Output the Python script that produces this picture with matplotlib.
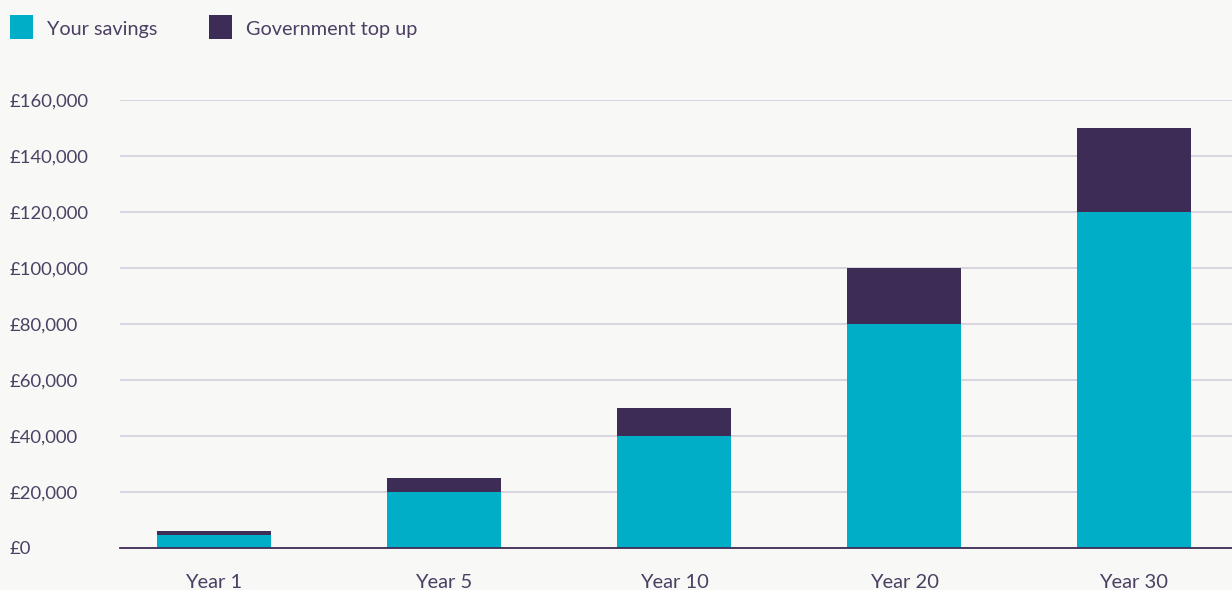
import matplotlib
matplotlib.use("Agg")
import matplotlib.pyplot as plt
from matplotlib.patches import Patch

categories = ["Year 1", "Year 5", "Year 10", "Year 20", "Year 30"]
your_savings = [4500, 20000, 40000, 80000, 120000]
government_top_up = [1500, 5000, 10000, 20000, 30000]
y_ticks = [0, 20000, 40000, 60000, 80000, 100000, 120000, 140000, 160000]
y_tick_labels = ["£0", "£20,000", "£40,000", "£60,000", "£80,000",
                 "£100,000", "£120,000", "£140,000", "£160,000"]

BG = "#f8f8f6"
TEAL = "#00aec7"
PURPLE = "#3d2c55"
GRID = "#d3cddb"
TEXT = "#4b3f63"

plt.rcParams['font.family'] = ['Lato', 'DejaVu Sans']

W, H = 1232, 590
fig = plt.figure(figsize=(W / 100, H / 100), dpi=100, facecolor=BG)
ax = fig.add_axes([120 / W, (H - 548) / H, (W - 120) / W, 448 / H])
ax.set_facecolor(BG)

x = list(range(len(categories)))
ax.bar(x, your_savings, width=0.496, color=TEAL, zorder=3)
ax.bar(x, government_top_up, width=0.496, bottom=your_savings, color=PURPLE, zorder=3)

ax.set_xlim(-0.409, 4.426)
ax.set_ylim(0, 160000)
ax.set_yticks(y_ticks)
ax.set_yticklabels(y_tick_labels)
ax.set_xticks(x)
ax.set_xticklabels(categories)

ax.yaxis.grid(True, color=GRID, linewidth=1.2, zorder=0)
ax.set_axisbelow(True)
for s in ["top", "right", "left"]:
    ax.spines[s].set_visible(False)
ax.spines["bottom"].set_color(PURPLE)
ax.spines["bottom"].set_linewidth(1.3)
ax.spines["bottom"].set_zorder(4)

ax.tick_params(axis="y", length=0, pad=79.2, labelsize=13.3, labelcolor=TEXT)
for lbl in ax.get_yticklabels():
    lbl.set_horizontalalignment("left")
ax.tick_params(axis="x", length=0, pad=18.5, labelsize=14.5, labelcolor=TEXT)

handles = [Patch(facecolor=TEAL, edgecolor="none", label="Your savings"),
           Patch(facecolor=PURPLE, edgecolor="none", label="Government top up")]
leg = fig.legend(handles=handles, loc="upper left", bbox_to_anchor=(10 / W, 1 - 18 / H),
                 ncol=2, frameon=False, fontsize=14.3, handlelength=1.16, handleheight=1.16,
                 handletextpad=0.7, columnspacing=2.6, borderaxespad=0, borderpad=0)
for t in leg.get_texts():
    t.set_color(TEXT)
for p in leg.get_patches():
    p.set_height(16.6)
    p.set_y(p.get_y() - 0.5)

fig.savefig("out.png", dpi=100, facecolor=BG)
